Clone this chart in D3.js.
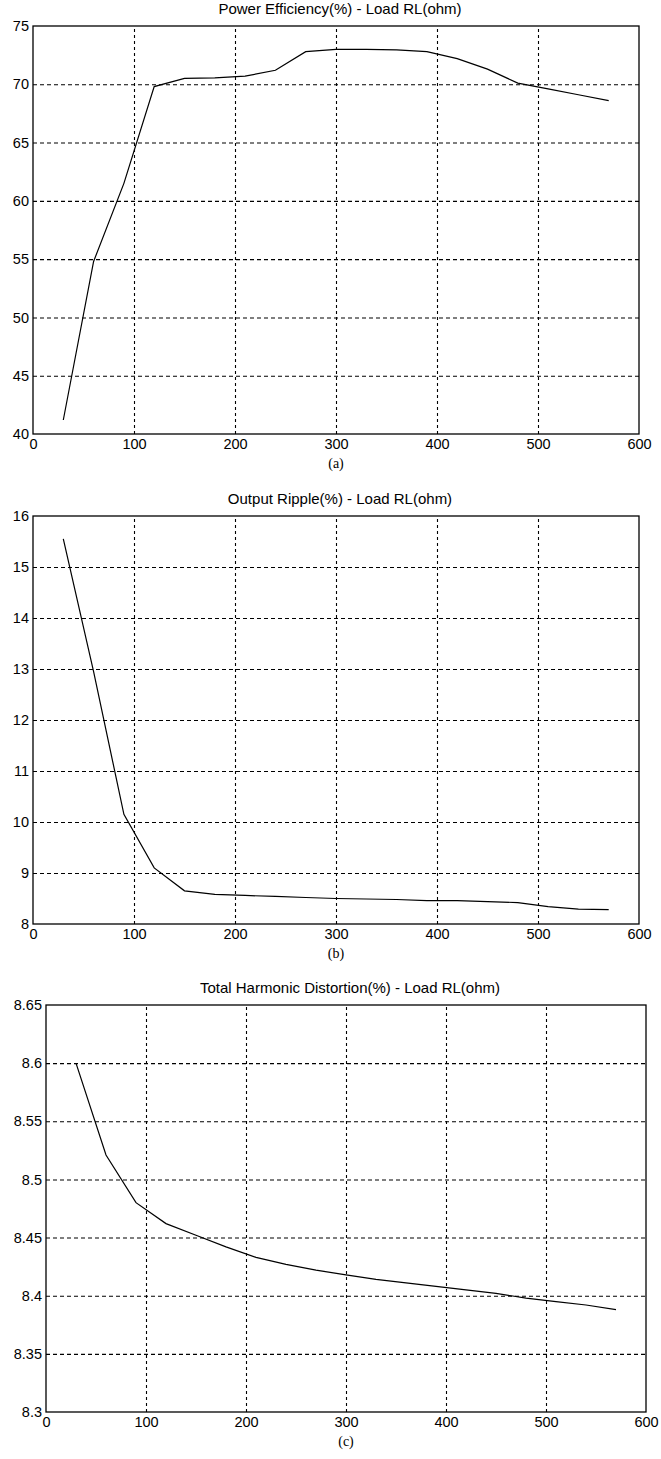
<!DOCTYPE html>
<html>
<head>
<meta charset="utf-8">
<script src="https://cdn.jsdelivr.net/npm/d3@7/dist/d3.min.js"></script>
<style>
  body { margin: 0; background: #fff; }
  svg text { font-family: "Liberation Sans", Arial, sans-serif; fill: #000; }
  .caption { font-family: "Liberation Serif", "Times New Roman", serif !important; }
</style>
</head>
<body>
<div id="chart"></div>
<script>
// load RL (ohm)
const loadRL = [30, 60, 90, 120, 150, 180, 210, 240, 270, 300, 330, 360, 390, 420, 450, 480, 510, 540, 570];

// (a) power efficiency %
const efficiency = [41.2, 54.8, 61.5, 69.8, 70.5, 70.55, 70.7, 71.2, 72.8, 73.0, 73.0, 72.95, 72.8, 72.2, 71.3, 70.1, 69.6, 69.1, 68.6];
// (b) output ripple %
const ripple = [15.55, 12.95, 10.15, 9.1, 8.65, 8.58, 8.56, 8.54, 8.52, 8.5, 8.49, 8.48, 8.46, 8.46, 8.44, 8.42, 8.34, 8.29, 8.28];
// (c) THD %
const thd = [8.6, 8.521, 8.48, 8.462, 8.452, 8.442, 8.433, 8.427, 8.422, 8.418, 8.414, 8.411, 8.408, 8.405, 8.402, 8.398, 8.395, 8.392, 8.388];

const xTicks = [0, 100, 200, 300, 400, 500, 600];
const effTicks = [40, 45, 50, 55, 60, 65, 70, 75];
const rippleTicks = [8, 9, 10, 11, 12, 13, 14, 15, 16];
const thdTicks = [8.3, 8.35, 8.4, 8.45, 8.5, 8.55, 8.6, 8.65];

const titles = ["Power Efficiency(%) - Load RL(ohm)", "Output Ripple(%) - Load RL(ohm)", "Total Harmonic Distortion(%) - Load RL(ohm)"];
const captions = ["(a)", "(b)", "(c)"];

const width = 661, height = 1459;

const svg = d3.select("#chart").append("svg")
  .attr("width", width)
  .attr("height", height);

svg.append("rect").attr("width", width).attr("height", height).attr("fill", "#fff");

const panels = [
  {values: efficiency, ticks: effTicks, left: 33, right: 639, top: 26, bottom: 434},
  {values: ripple, ticks: rippleTicks, left: 33, right: 639, top: 516, bottom: 924},
  {values: thd, ticks: thdTicks, left: 46, right: 646, top: 1005, bottom: 1412}
];

panels.forEach((p, i) => drawPanel(p, i));

function drawPanel(p, i) {
  const g = svg.append("g");
  const yDom = d3.extent(p.ticks);

  const x = d3.scaleLinear().domain([0, 600]).range([p.left, p.right]);
  const y = d3.scaleLinear().domain(yDom).range([p.bottom, p.top]);

  const innerX = xTicks.slice(1, -1);
  const innerY = p.ticks.slice(1, -1);

  // vertical grid
  g.append("g")
    .attr("transform", `translate(0,${p.bottom})`)
    .call(d3.axisBottom(x).tickValues(innerX).tickSize(-(p.bottom - p.top)).tickFormat(""))
    .call(a => a.select(".domain").remove())
    .selectAll("line")
    .attr("stroke", "#000")
    .attr("stroke-width", 1.1)
    .attr("stroke-dasharray", "3,3");

  // horizontal grid
  g.append("g")
    .attr("transform", `translate(${p.left},0)`)
    .call(d3.axisLeft(y).tickValues(innerY).tickSize(-(p.right - p.left)).tickFormat(""))
    .call(a => a.select(".domain").remove())
    .selectAll("line")
    .attr("stroke", "#000")
    .attr("stroke-width", 1.1)
    .attr("stroke-dasharray", "4,3");

  // box
  g.append("rect")
    .attr("x", p.left).attr("y", p.top)
    .attr("width", p.right - p.left).attr("height", p.bottom - p.top)
    .attr("fill", "none")
    .attr("stroke", "#000")
    .attr("stroke-width", 1.3);

  // tick labels
  const xa = g.append("g")
    .attr("transform", `translate(0,${p.bottom})`)
    .call(d3.axisBottom(x).tickValues(xTicks).tickSize(0).tickPadding(5).tickFormat(d3.format("d")));
  xa.select(".domain").remove();
  xa.selectAll("text").style("font-size", "14.5px").style("font-family", "Liberation Sans, Arial, sans-serif");

  const ya = g.append("g")
    .attr("transform", `translate(${p.left},0)`)
    .call(d3.axisLeft(y).tickValues(p.ticks).tickSize(0).tickPadding(4).tickFormat(d => String(+d.toFixed(2))));
  ya.select(".domain").remove();
  ya.selectAll("text").style("font-size", "14.5px").style("font-family", "Liberation Sans, Arial, sans-serif");

  // curve
  const line = d3.line()
    .x((d, j) => x(loadRL[j]))
    .y(d => y(d));

  g.append("path")
    .datum(p.values)
    .attr("d", line)
    .attr("fill", "none")
    .attr("stroke", "#000")
    .attr("stroke-width", 1.2);

  // title + caption
  g.append("text")
    .attr("x", (p.left + p.right) / 2 + 4)
    .attr("y", p.top - 12)
    .attr("text-anchor", "middle")
    .style("font-size", "15px")
    .text(titles[i]);

  g.append("text")
    .attr("class", "caption")
    .attr("x", (p.left + p.right) / 2)
    .attr("y", p.bottom + 34)
    .attr("text-anchor", "middle")
    .style("font-size", "14px")
    .text(captions[i]);
}
</script>
</body>
</html>
